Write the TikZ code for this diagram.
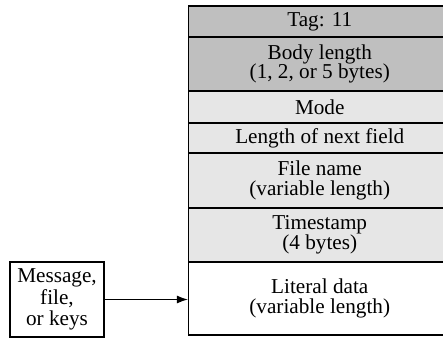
\documentclass[tikz,border=0pt]{standalone}
\usepackage{fontspec}
\setmainfont{Liberation Serif}
\usetikzlibrary{arrows.meta}
\definecolor{darkcell}{RGB}{191,191,191}
\definecolor{lightcell}{RGB}{230,230,230}
\begin{document}
\begin{tikzpicture}[x=1pt,y=-1pt,
  cell/.style={draw=black, line width=1.2pt, rectangle, inner sep=0pt, minimum width=262.5pt,
    align=center, font=\fontsize{21.2}{19.5}\selectfont},
  srcbox/.style={draw=black, line width=1.2pt, rectangle, inner sep=0pt, minimum width=94pt, minimum height=75pt,
    align=center, font=\fontsize{21.2}{21.5}\selectfont},
  conn/.style={line width=1.2pt, -{Latex[length=11pt,width=8pt]}}]
\useasboundingbox (0,0) rectangle (443,338);
\node[cell, fill=darkcell, minimum height=31pt] (tag) at (319.75,21.5) {Tag: 11};
\node[cell, fill=darkcell, minimum height=54pt] (body) at (319.75,64) {Body length\\(1, 2, or 5 bytes)};
\node[cell, fill=lightcell, minimum height=32pt] (mode) at (319.75,107) {Mode};
\node[cell, fill=lightcell, minimum height=30pt] (len) at (319.75,138) {Length of next field};
\node[cell, fill=lightcell, minimum height=55pt] (fname) at (319.75,180.5) {File name\\(variable length)};
\node[cell, fill=lightcell, minimum height=54pt] (ts) at (319.75,235) {Timestamp\\(4 bytes)};
\node[cell, fill=white, minimum height=73pt] (lit) at (319.75,298.5) {Literal data\\(variable length)};
\node[srcbox] (msg) at (57,299.5) {Message,\\file,\\or keys};
\draw[conn] (msg.east) -- (msg.east -| lit.west);
\end{tikzpicture}
\end{document}
